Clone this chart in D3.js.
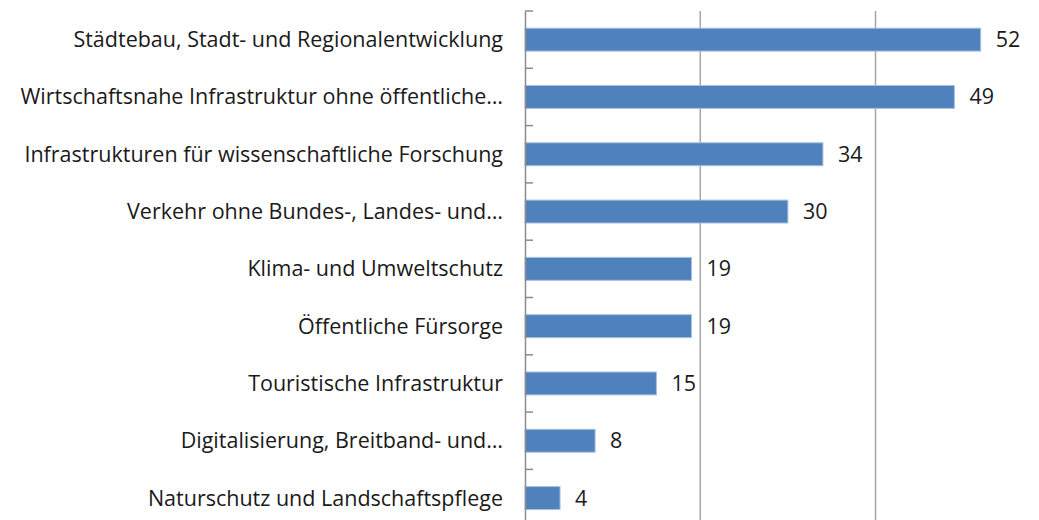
<!DOCTYPE html>
<html>
<head>
<meta charset="utf-8">
<script src="https://cdn.jsdelivr.net/npm/d3@7"></script>
<style>
  body { margin: 0; background: #fff; }
  #chart { width: 1039px; height: 520px; overflow: hidden; }
  .label { font-family: "Open Sans", sans-serif; fill: #1a1a1a; }
</style>
</head>
<body>
<div id="chart"></div>
<script>
var categories = [
    "Städtebau, Stadt- und Regionalentwicklung",
    "Wirtschaftsnahe Infrastruktur ohne öffentliche…",
    "Infrastrukturen für wissenschaftliche Forschung",
    "Verkehr ohne Bundes-, Landes- und…",
    "Klima- und Umweltschutz",
    "Öffentliche Fürsorge",
    "Touristische Infrastruktur",
    "Digitalisierung, Breitband- und…",
    "Naturschutz und Landschaftspflege"
];
var values = [52, 49, 34, 30, 19, 19, 15, 8, 4];
var gridTicks = [20, 40, 60];

(function () {
    var width = 1039, height = 520;
    var left = 525, top = 11;
    var band = 57.3;

    var svg = d3.select("#chart").append("svg")
            .attr("width", width)
            .attr("height", height);

    var x = d3.scaleLinear().domain([0, 60]).range([left, left + 60 * 8.763]);
    var y = d3.scaleBand().domain(categories)
            .range([top, top + band * categories.length])
            .paddingInner(0.6).paddingOuter(0.3);

    // gridlines
    svg.selectAll("line.grid")
            .data(gridTicks)
            .enter().append("line")
            .attr("class", "grid")
            .attr("x1", function (d) { return x(d); })
            .attr("x2", function (d) { return x(d); })
            .attr("y1", top)
            .attr("y2", top + band * categories.length)
            .attr("stroke", "#a6a6a6")
            .attr("stroke-width", 1.5);

    // bars
    svg.selectAll("rect.bar")
            .data(values)
            .enter().append("rect")
            .attr("class", "bar")
            .attr("x", x(0))
            .attr("y", function (d, i) { return y(categories[i]); })
            .attr("width", function (d) { return x(d) - x(0); })
            .attr("height", y.bandwidth())
            .attr("fill", "#4f81bd")
            .attr("stroke", "#a9c1e0")
            .attr("stroke-width", 1);

    // category axis
    var axis = d3.axisLeft(y).tickSize(0).tickPadding(22);
    var g = svg.append("g")
            .attr("transform", "translate(" + x(0) + ",0)")
            .call(axis);
    g.select(".domain").attr("stroke", "#8c8c8c").attr("stroke-width", 1.5);
    g.selectAll(".tick text")
            .attr("class", "label")
            .style("font-size", "21.5px")
            .attr("dy", "0.35em");

    // tick marks between categories (inside)
    var bounds = d3.range(categories.length + 1).map(function (i) { return top + i * band; });
    svg.selectAll("line.cat")
            .data(bounds)
            .enter().append("line")
            .attr("class", "cat")
            .attr("x1", x(0))
            .attr("x2", x(0) + 8)
            .attr("y1", function (d) { return d; })
            .attr("y2", function (d) { return d; })
            .attr("stroke", "#8c8c8c")
            .attr("stroke-width", 1.5);

    // value labels
    svg.selectAll("text.val")
            .data(values)
            .enter().append("text")
            .attr("class", "label val")
            .attr("x", function (d) { return x(d) + 15; })
            .attr("y", function (d, i) { return y(categories[i]) + y.bandwidth() / 2; })
            .attr("dy", "0.35em")
            .style("font-size", "21.5px")
            .text(function (d) { return d; });
})();
</script>
</body>
</html>
